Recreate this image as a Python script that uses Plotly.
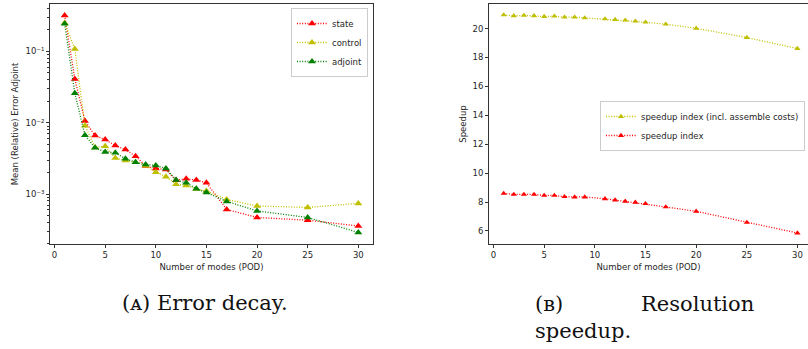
import plotly.graph_objects as go

# ---------------- data ----------------
modes_err = [1, 2, 3, 4, 5, 6, 7, 8, 9, 10, 11, 12, 13, 14, 15, 17, 20, 25, 30]
err_state = [0.32, 0.041, 0.0106, 0.0066, 0.0058, 0.0048, 0.0042, 0.0034, 0.00247, 0.00229,
             0.00221, 0.00156, 0.00164, 0.00157, 0.00144, 0.00061, 0.00047, 0.00043, 0.000357]
err_control = [0.25, 0.108, 0.0091, 0.0045, 0.00469, 0.0032, 0.00296, 0.0028, 0.0025, 0.00203,
               0.00175, 0.00137, 0.00132, 0.00118, 0.0011, 0.00084, 0.00068, 0.00065, 0.00074]
err_adjoint = [0.244, 0.026, 0.0067, 0.00446, 0.0039, 0.0038, 0.00313, 0.0028, 0.0026, 0.00252,
               0.00229, 0.00157, 0.00144, 0.00119, 0.00105, 0.00079, 0.00058, 0.00047, 0.00029]

modes_sp = [1, 2, 3, 4, 5, 6, 7, 8, 9, 11, 12, 13, 14, 15, 17, 20, 25, 30]
speedup_incl = [20.94, 20.88, 20.91, 20.88, 20.83, 20.86, 20.79, 20.79, 20.74, 20.67,
                20.62, 20.58, 20.51, 20.44, 20.30, 20.02, 19.38, 18.62]
speedup_idx = [8.60, 8.53, 8.53, 8.53, 8.46, 8.46, 8.37, 8.35, 8.35, 8.23,
               8.14, 8.05, 7.98, 7.89, 7.66, 7.36, 6.59, 5.86]

err_ticks = [1e-3, 1e-2, 1e-1]
err_ticktext = ["10⁻³", "10⁻²", "10⁻¹"]
err_minor = [m * 10.0 ** e for e in (-4, -3, -2, -1) for m in range(2, 10)]
x_ticks = [0, 5, 10, 15, 20, 25, 30]
sp_ticks = [6, 8, 10, 12, 14, 16, 18, 20]

RED = "#ff0000"
YEL = "#bfbf00"
GRN = "#008000"
DOT = "1px,1.6px"
TXT = "#262626"
AX = "#333333"
FONT = "DejaVu Sans"

fig = go.Figure()

def add(x, y, name, color, xa, ya, legend, msize):
    fig.add_trace(go.Scatter(
        x=x, y=y, name=name, mode="lines+markers",
        line=dict(color=color, width=1.3, dash=DOT),
        marker=dict(symbol="triangle-up", size=msize, color=color, line=dict(width=0)),
        xaxis=xa, yaxis=ya, legend=legend))

add(modes_err, err_state, "state", RED, "x", "y", "legend", 7)
add(modes_err, err_control, "control", YEL, "x", "y", "legend", 7)
add(modes_err, err_adjoint, "adjoint", GRN, "x", "y", "legend", 7)
add(modes_sp, speedup_incl, "speedup index (incl. assemble costs)", YEL, "x2", "y2", "legend2", 5.5)
add(modes_sp, speedup_idx, "speedup index", RED, "x2", "y2", "legend2", 5.5)

L, T, W, H = 50, 4, 758, 240  # plot area in px
def px(xp):
    return (xp - L) / W
def py(yp):
    return (T + H - yp) / H

axis_common = dict(
    showline=True, linecolor=AX, linewidth=1, ticks="outside", ticklen=3,
    tickcolor=AX, tickwidth=1, showgrid=False, zeroline=False,
    tickfont=dict(family=FONT, size=8.5, color=TXT),
)
title_font = dict(family=FONT, size=8.5, color=TXT)

fig.update_layout(
    width=808, height=349,
    margin=dict(l=L, r=0, t=T, b=349 - T - H, pad=0),
    paper_bgcolor="white", plot_bgcolor="white",
    showlegend=True,
    xaxis=dict(axis_common, domain=[0, px(373)], range=[-0.45, 31.45], mirror=True,
               tickvals=x_ticks, anchor="y",
               title=dict(text="Number of modes (POD)", font=title_font, standoff=4)),
    yaxis=dict(axis_common, type="log", range=[-3.70, -0.335], mirror=True,
               tickvals=err_ticks, ticktext=err_ticktext, anchor="x",
               minor=dict(tickvals=err_minor, ticks="outside", ticklen=2, tickcolor=AX, showgrid=False),
               title=dict(text="Mean (Relative) Error Adjoint", font=title_font, standoff=5)),
    xaxis2=dict(axis_common, domain=[px(489), 1], range=[-0.45, 31.04], mirror=True,
                tickvals=x_ticks, anchor="y2",
                title=dict(text="Number of modes (POD)", font=title_font, standoff=4)),
    yaxis2=dict(axis_common, range=[5.10, 21.70], mirror=False,
                tickvals=sp_ticks, anchor="x2",
                title=dict(text="Speedup", font=title_font, standoff=4)),
    legend=dict(x=px(368), xanchor="right", y=py(8), yanchor="top",
                bgcolor="rgba(255,255,255,0.85)", bordercolor="#cccccc", borderwidth=1,
                font=dict(family=FONT, size=8.5, color=TXT), itemwidth=30),
    legend2=dict(x=px(805), xanchor="right", y=py(101), yanchor="top",
                 bgcolor="rgba(255,255,255,0.85)", bordercolor="#cccccc", borderwidth=1,
                 font=dict(family=FONT, size=8.5, color=TXT), itemwidth=30),
)

CAP = dict(family="DejaVu Serif", size=21, color="#111111")
def cap(text, xp, yp, xanchor):
    fig.add_annotation(text=text, xref="paper", yref="paper", x=px(xp), y=py(yp),
                       xanchor=xanchor, yanchor="middle", showarrow=False, font=CAP)

cap("(ᴀ) Error decay.", 120, 303, "left")
cap("(ʙ)", 533, 304, "left")
cap("Resolution", 756, 304, "right")
cap("speedup.", 533, 331, "left")

fig.write_html("out.html")
